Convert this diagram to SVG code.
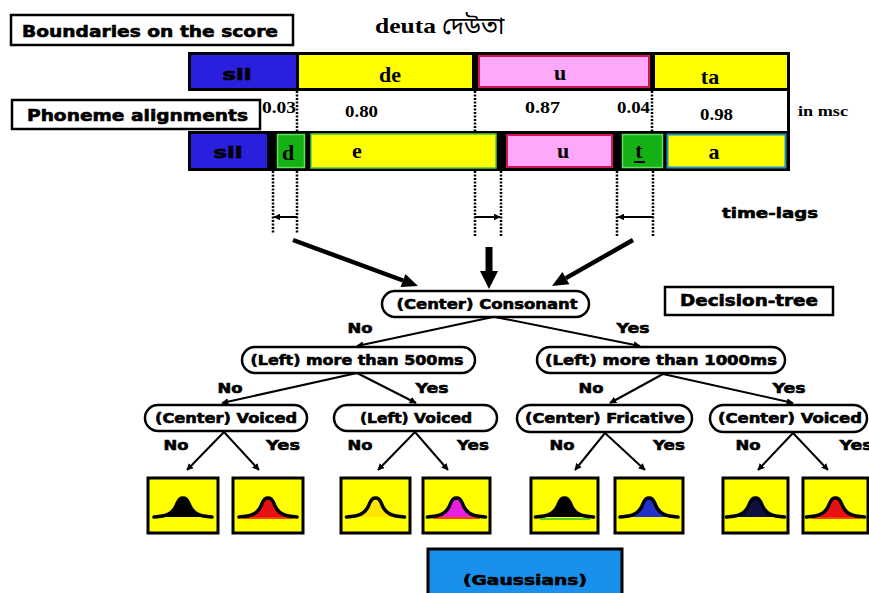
<svg xmlns="http://www.w3.org/2000/svg" width="869" height="593" viewBox="0 0 869 593">
<style>
.lbl{font-family:"DejaVu Sans","Liberation Sans",sans-serif;font-weight:bold;fill:#000;stroke:#000;stroke-width:0.6;}
.ser{font-family:"Liberation Serif","Times New Roman",serif;font-weight:bold;fill:#000;}
.pill{fill:#fff;stroke:#000;stroke-width:2.5;}
.box{fill:#fff;stroke:#000;stroke-width:2.5;}
.edge{stroke:#000;stroke-width:2;fill:none;}
.dot{stroke:#000;stroke-width:2.5;stroke-dasharray:2 1.5;fill:none;}
.gbox{fill:#ffff00;stroke:#000;stroke-width:3;}
.bell{stroke:#000;stroke-width:3.5;stroke-linecap:round;stroke-linejoin:round;}
.yel{fill:#ffff00;}
.blu{fill:#2a1fdc;}
.pnk{fill:#ffa8fa;stroke:#d2145a;stroke-width:2;}
.grn{fill:#14b014;stroke:#60e060;stroke-width:1.5;}
</style>
<defs>
<marker id="sm" viewBox="0 0 10 10" refX="9" refY="5" markerWidth="7" markerHeight="7" markerUnits="userSpaceOnUse" orient="auto">
<path d="M0,0 L10,5 L0,10 z" fill="#000"/>
</marker>
<path id="bellp" d="M-29,0 C-16,-1 -11,-3 -7,-11 C-4,-19 -2,-19 0,-19 C2,-19 4,-19 7,-11 C11,-3 16,-1 29,0"/>
</defs>
<rect width="869" height="593" fill="#fff"/>

<!-- title -->
<g id="title">
<text class="ser" x="375" y="33" font-size="22" textLength="61" lengthAdjust="spacingAndGlyphs">deuta</text>
<text x="442" y="34" font-size="24" font-family="'Noto Sans Bengali','Noto Serif Bengali','Lohit Bengali','Noto Sans',sans-serif" fill="#000">দেউতা</text>
</g>

<g id="label-boundaries">
<rect class="box" x="11" y="15" width="282" height="30"/>
<text class="lbl" x="22" y="37" font-size="16" textLength="256" lengthAdjust="spacingAndGlyphs">Boundaries on the score</text>
</g>

<g id="label-phoneme">
<rect class="box" x="12" y="100" width="248" height="29"/>
<text class="lbl" x="27" y="121" font-size="16" textLength="221" lengthAdjust="spacingAndGlyphs">Phoneme alignments</text>
</g>

<!-- top score bar -->
<g id="score-bar">
<rect x="188" y="52" width="602" height="39" fill="#000"/>
<rect class="blu" x="191" y="55" width="105" height="33"/>
<rect class="yel" x="299" y="55" width="173" height="33"/>
<rect class="pnk" x="479" y="56" width="170" height="31"/>
<rect class="yel" x="655" y="55" width="132" height="33"/>
<text class="lbl" x="237" y="80" font-size="15" text-anchor="middle" textLength="29" lengthAdjust="spacingAndGlyphs">sil</text>
<text class="ser" x="390" y="82" font-size="22" text-anchor="middle">de</text>
<text class="ser" x="560" y="80" font-size="22" text-anchor="middle">u</text>
<text class="ser" x="710" y="84" font-size="22" text-anchor="middle">ta</text>
</g>

<!-- middle strip with durations -->
<g id="durations">
<line x1="788.5" y1="90" x2="788.5" y2="132" stroke="#000" stroke-width="3"/>
<line class="dot" x1="297" y1="91" x2="297" y2="131"/>
<line class="dot" x1="475" y1="91" x2="475" y2="131"/>
<line class="dot" x1="652" y1="91" x2="652" y2="131"/>
<text class="ser" x="262" y="113" font-size="17" textLength="34" lengthAdjust="spacingAndGlyphs">0.03</text>
<text class="ser" x="345" y="117" font-size="17" textLength="33" lengthAdjust="spacingAndGlyphs">0.80</text>
<text class="ser" x="525" y="113" font-size="17" textLength="35" lengthAdjust="spacingAndGlyphs">0.87</text>
<text class="ser" x="617" y="113" font-size="17" textLength="33" lengthAdjust="spacingAndGlyphs">0.04</text>
<text class="ser" x="700" y="120" font-size="17" textLength="33" lengthAdjust="spacingAndGlyphs">0.98</text>
<text class="ser" x="798" y="116" font-size="15" textLength="50" lengthAdjust="spacingAndGlyphs">in msc</text>
</g>

<!-- phoneme bar -->
<g id="phoneme-bar">
<rect x="188" y="131" width="602" height="40" fill="#000"/>
<rect class="blu" x="191" y="134" width="76" height="34"/>
<rect class="grn" x="277.5" y="134.5" width="27" height="33"/>
<rect x="311" y="134" width="185" height="34" fill="#ffff00" stroke="#4cc84c" stroke-width="1.5"/>
<rect class="pnk" x="507" y="135" width="105" height="32"/>
<rect class="grn" x="622.5" y="134.5" width="40" height="33"/>
<rect x="667.5" y="134.5" width="118" height="33" fill="#ffff00" stroke="#2090c0" stroke-width="2"/>
<text class="lbl" x="228" y="158" font-size="15" text-anchor="middle" textLength="29" lengthAdjust="spacingAndGlyphs">sil</text>
<text class="ser" x="288" y="160" font-size="22" text-anchor="middle">d</text>
<text class="ser" x="357" y="158" font-size="22" text-anchor="middle">e</text>
<text class="ser" x="563" y="158" font-size="22" text-anchor="middle">u</text>
<text class="ser" x="639" y="158" font-size="22" text-anchor="middle">t</text>
<line x1="634" y1="162" x2="645" y2="162" stroke="#000" stroke-width="2"/>
<text class="ser" x="714" y="159" font-size="22" text-anchor="middle">a</text>
</g>

<!-- time lags -->
<g id="time-lags">
<line class="dot" x1="273" y1="171" x2="273" y2="234"/>
<line class="dot" x1="297" y1="171" x2="297" y2="234"/>
<line class="dot" x1="475" y1="171" x2="475" y2="236"/>
<line class="dot" x1="501" y1="171" x2="501" y2="236"/>
<line class="dot" x1="617" y1="171" x2="617" y2="236"/>
<line class="dot" x1="653" y1="171" x2="653" y2="236"/>
<line class="edge" x1="297" y1="217" x2="274" y2="217" marker-end="url(#sm)"/>
<line class="edge" x1="475" y1="217" x2="500" y2="217" marker-end="url(#sm)"/>
<line class="edge" x1="653" y1="217" x2="618" y2="217" marker-end="url(#sm)"/>
<text class="lbl" x="722" y="218" font-size="14" textLength="96" lengthAdjust="spacingAndGlyphs">time-lags</text>
</g>

<!-- connectors -->
<g id="connectors">
<line x1="293" y1="240" x2="403" y2="280.5" stroke="#000" stroke-width="4.5"/>
<polygon points="418,286 400.6,287.1 405.4,273.9" fill="#000"/>
<line x1="489" y1="247" x2="489" y2="272" stroke="#000" stroke-width="7"/>
<polygon points="489,289 480,271 498,271" fill="#000"/>
<line x1="633" y1="240" x2="565.9" y2="278.1" stroke="#000" stroke-width="4.5"/>
<polygon points="552,286 562.4,272 569.4,284.2" fill="#000"/>

<line class="edge" x1="493" y1="317" x2="357" y2="346" marker-end="url(#sm)"/>
<line class="edge" x1="495" y1="317" x2="640" y2="346" marker-end="url(#sm)"/>
<line class="edge" x1="357" y1="373" x2="222" y2="403" marker-end="url(#sm)"/>
<line class="edge" x1="357" y1="373" x2="416" y2="403" marker-end="url(#sm)"/>
<line class="edge" x1="663" y1="374" x2="610" y2="403" marker-end="url(#sm)"/>
<line class="edge" x1="663" y1="374" x2="793" y2="403" marker-end="url(#sm)"/>
<line class="edge" x1="224" y1="432" x2="187" y2="470" marker-end="url(#sm)"/>
<line class="edge" x1="224" y1="432" x2="259" y2="470" marker-end="url(#sm)"/>
<line class="edge" x1="415" y1="432" x2="378" y2="470" marker-end="url(#sm)"/>
<line class="edge" x1="415" y1="432" x2="448" y2="470" marker-end="url(#sm)"/>
<line class="edge" x1="605" y1="433" x2="575" y2="470" marker-end="url(#sm)"/>
<line class="edge" x1="605" y1="433" x2="645" y2="470" marker-end="url(#sm)"/>
<line class="edge" x1="793" y1="433" x2="758" y2="470" marker-end="url(#sm)"/>
<line class="edge" x1="793" y1="433" x2="828" y2="470" marker-end="url(#sm)"/>

<g class="lbl" font-size="14" text-anchor="middle">
<text x="360" y="333" textLength="25" lengthAdjust="spacingAndGlyphs">No</text>
<text x="633" y="333" textLength="33" lengthAdjust="spacingAndGlyphs">Yes</text>
<text x="230" y="393" textLength="25" lengthAdjust="spacingAndGlyphs">No</text>
<text x="432" y="393" textLength="33" lengthAdjust="spacingAndGlyphs">Yes</text>
<text x="591" y="393" textLength="25" lengthAdjust="spacingAndGlyphs">No</text>
<text x="789" y="393" textLength="33" lengthAdjust="spacingAndGlyphs">Yes</text>
<text x="176" y="450" textLength="25" lengthAdjust="spacingAndGlyphs">No</text>
<text x="283" y="450" textLength="34" lengthAdjust="spacingAndGlyphs">Yes</text>
<text x="360" y="450" textLength="25" lengthAdjust="spacingAndGlyphs">No</text>
<text x="473" y="450" textLength="32" lengthAdjust="spacingAndGlyphs">Yes</text>
<text x="562" y="450" textLength="25" lengthAdjust="spacingAndGlyphs">No</text>
<text x="669" y="450" textLength="32" lengthAdjust="spacingAndGlyphs">Yes</text>
<text x="748" y="450" textLength="25" lengthAdjust="spacingAndGlyphs">No</text>
<text x="856" y="450" textLength="33" lengthAdjust="spacingAndGlyphs">Yes</text>
</g>
</g>

<!-- decision tree nodes -->
<g id="node-consonant">
<rect class="pill" x="382" y="291" width="207" height="26" rx="13"/>
<text class="lbl" x="487" y="309" font-size="14" text-anchor="middle" textLength="181" lengthAdjust="spacingAndGlyphs">(Center) Consonant</text>
</g>
<g id="label-decision-tree">
<rect class="box" x="665" y="287" width="168" height="28"/>
<text class="lbl" x="749" y="306" font-size="15" text-anchor="middle" textLength="138" lengthAdjust="spacingAndGlyphs">Decision-tree</text>
</g>
<g id="node-500ms">
<rect class="pill" x="242" y="347" width="233" height="26" rx="13"/>
<text class="lbl" x="357" y="365" font-size="14" text-anchor="middle" textLength="213" lengthAdjust="spacingAndGlyphs">(Left) more than 500ms</text>
</g>
<g id="node-1000ms">
<rect class="pill" x="537" y="347" width="248" height="26" rx="13"/>
<text class="lbl" x="661" y="365" font-size="14" text-anchor="middle" textLength="232" lengthAdjust="spacingAndGlyphs">(Left) more than 1000ms</text>
</g>
<g id="node-center-voiced-1">
<rect class="pill" x="145" y="405" width="162" height="26" rx="13"/>
<text class="lbl" x="226" y="423" font-size="14" text-anchor="middle" textLength="142" lengthAdjust="spacingAndGlyphs">(Center) Voiced</text>
</g>
<g id="node-left-voiced">
<rect class="pill" x="334" y="405" width="163" height="26" rx="13"/>
<text class="lbl" x="416" y="423" font-size="14" text-anchor="middle" textLength="112" lengthAdjust="spacingAndGlyphs">(Left) Voiced</text>
</g>
<g id="node-center-fricative">
<rect class="pill" x="517" y="405" width="175" height="27" rx="13.5"/>
<text class="lbl" x="605" y="423" font-size="14" text-anchor="middle" textLength="160" lengthAdjust="spacingAndGlyphs">(Center) Fricative</text>
</g>
<g id="node-center-voiced-2">
<rect class="pill" x="710" y="405" width="157" height="27" rx="13.5"/>
<text class="lbl" x="790" y="423" font-size="14" text-anchor="middle" textLength="144" lengthAdjust="spacingAndGlyphs">(Center) Voiced</text>
</g>

<!-- gaussians -->
<g id="gauss-1"><rect class="gbox" x="148" y="478" width="70" height="55"/><use href="#bellp" x="183" y="517" class="bell" fill="#000"/></g>
<g id="gauss-2"><rect class="gbox" x="233" y="478" width="70" height="55"/><line x1="243" y1="518" x2="293" y2="518" stroke="#ff4000" stroke-width="2"/><use href="#bellp" x="268" y="517" class="bell" fill="#e81010"/></g>
<g id="gauss-3"><rect class="gbox" x="341" y="478" width="69" height="55"/><use href="#bellp" x="375.5" y="517" class="bell" fill="#ffe600"/></g>
<g id="gauss-4"><rect class="gbox" x="423" y="478" width="67" height="55"/><line x1="433" y1="518" x2="480" y2="518" stroke="#ff4000" stroke-width="2"/><use href="#bellp" x="456.5" y="517" class="bell" fill="#e81ee0"/></g>
<g id="gauss-5"><rect class="gbox" x="531" y="478" width="67" height="55"/><line x1="540" y1="519" x2="590" y2="519" stroke="#60d020" stroke-width="2"/><use href="#bellp" x="564.5" y="517" class="bell" fill="#000"/></g>
<g id="gauss-6"><rect class="gbox" x="615" y="478" width="68" height="55"/><use href="#bellp" x="649" y="517" class="bell" fill="#2030c8"/></g>
<g id="gauss-7"><rect class="gbox" x="723" y="478" width="65" height="55"/><use href="#bellp" x="755.5" y="517" class="bell" fill="#101040"/></g>
<g id="gauss-8"><rect class="gbox" x="803" y="478" width="65" height="55"/><line x1="812" y1="518" x2="860" y2="518" stroke="#ff4000" stroke-width="2"/><use href="#bellp" x="835.5" y="517" class="bell" fill="#e81010"/></g>

<g id="label-gaussians">
<rect x="428" y="549" width="194" height="50" fill="#1890ec" stroke="#000" stroke-width="3"/>
<text class="lbl" x="525" y="585" font-size="14" text-anchor="middle" textLength="124" lengthAdjust="spacingAndGlyphs">(Gaussians)</text>
</g>
</svg>
